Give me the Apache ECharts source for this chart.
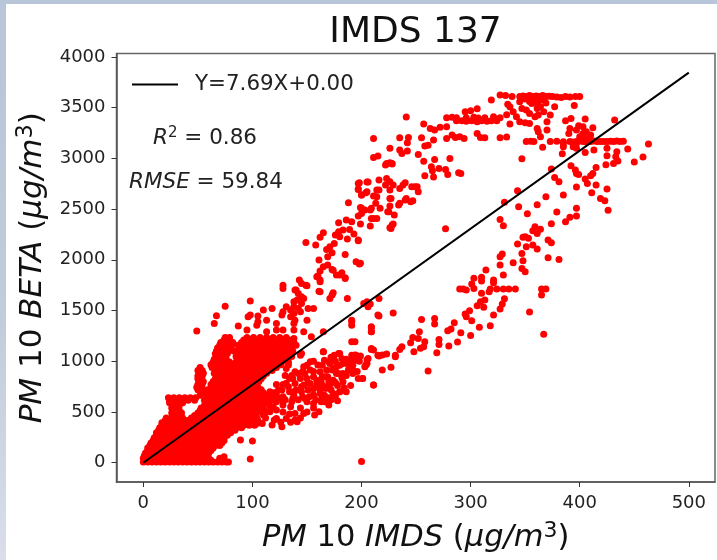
<!DOCTYPE html>
<html><head><meta charset="utf-8">
<style>
html,body{margin:0;padding:0;width:717px;height:560px;overflow:hidden;background:linear-gradient(180deg,#b9c5d8 0%,#c0cbdb 55%,#d9dee9 100%);}
#panel{position:absolute;left:6px;top:4px;right:0;bottom:0;background:#fff;}
#c{position:absolute;left:0;top:0;width:717px;height:560px;}
</style>
<script src="https://cdn.jsdelivr.net/npm/echarts@6/dist/echarts.min.js"></script>
</head><body><div id="panel"></div><div id="c"></div>
<script>
const xTicks=[0,100,200,300,400,500];
const yTicks=[0,500,1000,1500,2000,2500,3000,3500,4000];
const fitSlope=7.69, fitEnd=500;
// dense cloud: [beta value, list of IMDS values]
const denseRows=[
[8,[0,4,8,12,16,20,24,28,32,36,40,44,48,52,56,60,64,68,72,76,78]],
[45,[0,3,7,11,16,21,26,31,36,41,46,51,56,60,70]],
[95,[2,6,10,15,20,25,30,35,40,45,50,55,60]],
[145,[4,9,14,19,24,29,34,39,44,49,54,59,64]],
[195,[7,12,17,22,27,32,37,42,47,52,57,62,67,72]],
[245,[10,15,20,25,30,35,40,45,50,55,60,65,70,74]],
[295,[12,17,22,27,32,37,42,47,52,57,62,67,72,77,80]],
[345,[15,20,25,30,35,40,45,50,55,60,65,70,75,80,85,90]],
[395,[17,22,27,32,37,42,47,52,57,62,67,72,77,82,87,92,97,102]],
[440,[21,26,31,36,44,50,56,62,68,74,80,86,92,98,104]],
[490,[26,31,35,50,56,62,68,74,80,86,92,98,104]],
[540,[26,32,53,59,65,71,77,83,89,95,101,106]],
[590,[24,30,36,57,63,69,75,81,87,93,99,105,111]],
[640,[23,28,33,38,43,48,58,64,70,76,82,88,94,100,106,112,118]],
[690,[56,62,68,74,80,86,92,98,104,110,117,122]],
[745,[49,53,63,69,75,81,87,93,99,105]],
[800,[51,55,64,70,76,82,88,94,100,106]],
[855,[50,54,68,74,80,86,92,98,104,110]],
[910,[50,54,66,72,78,84,90,96,102,108,114,118]],
[965,[62,68,74,80,86,92,98,104,110,116,122,126]],
[1020,[65,70,76,90,96,102,108,114,120,126,131]],
[1075,[66,71,77,86,92,98,104,110,116,122,128,134]],
[1130,[68,73,79,88,94,100,106,112,118,124,130,136]],
[1185,[71,76,82,90,96,102,108,114,120,126,132,138]],
[1235,[75,79,95,101,107,113,119,125,131]]
];
const denseInfill=[
[25,[2,6,10,14,18,22,26,30,34,38,42,46,50,54,58,62]],
[70,[1,5,9,13,18,23,28,33,38,43,48,53,58]],
[120,[4,8,12,17,22,27,32,37,42,47,52,57,62]],
[170,[6,11,16,21,26,31,36,41,46,51,56,61,66,70]],
[220,[9,14,19,24,29,34,39,44,49,54,59,64,69,74]],
[270,[12,17,22,27,32,37,42,47,52,57,62,67,72,77]],
[320,[14,19,24,29,34,39,44,49,54,59,64,69,74,79,84]],
[370,[17,22,27,32,37,42,47,52,57,62,67,72,77,82,87,92,97,102]],
[415,[20,25,30,35,40,45,50,55,60,65,70,75,80,85,90,95,100,105]],
[465,[28,33,47,53,59,65,71,77,83,89,95,101]],
[515,[28,33,52,58,64,70,76,82,88,94,100,106]],
[565,[27,33,56,62,68,74,80,86,92,98,104,110]],
[615,[24,29,35,41,47,56,61,67,73,79,85,91,97,103,109,115]],
[665,[52,59,65,71,77,83,89,95,101,107,113,119]],
[718,[50,54,59,66,72,78,84,90,96,102,108]],
[772,[50,54,62,67,73,79,85,91,97,103]],
[828,[50,53,66,73,79,85,91,97,103,108]],
[882,[51,55,65,71,77,83,89,95,101,107,113]],
[938,[52,63,69,75,81,87,93,99,105,111,117,122]],
[992,[64,67,73,79,85,91,97,103,109,115,121,127,133]],
[1048,[67,72,85,89,95,101,107,113,119,125,131,136]],
[1102,[67,72,78,83,89,95,101,107,113,119,125,131,137]],
[1158,[70,75,81,87,93,99,105,111,117,123,129,135,140]],
[1210,[74,79,92,98,104,110,116,122,128,134]]
];
const upperCloud=[[49,1297],[65,1373],[67,1448],[75,1543],[98,1593],[87,1347],[96,1438],[98,1455],[95,1307],[105,1445],[104,1356],[113,1405],[110,1504],[118,1520],[105,1389],[122,1373],[113,1290],[122,1307],[128,1307],[138,1373],[138,1307],[147,1290],[150,1405],[151,1520],[156,1520],[128,1488],[127,1455],[135,1504],[138,1537],[141,1603],[145,1635],[139,1701],[128,1750],[128,1717],[145,1767],[149,1750],[162,1685],[173,1652],[187,1619],[162,1783],[154,1241],[138,1225],[165,1290],[144,1060],[165,1094],[191,1389],[191,1192],[194,1192],[191,1356],[135,1438],[138,1471],[142,1520],[145,1570],[147,1619],[144,1488],[139,1405],[131,1537],[142,1668],[138,1586],[160,1839],[162,1800],[174,1898],[180,1849],[185,1816],[161,1691],[174,1675],[171,1619],[150,1745],[140,1701]];
const lowerLobe=[[145,1077],[165,1093],[179,1077],[191,1405],[209,1340],[209,1290],[215,1455],[211,1110],[209,1126],[191,1060],[195,1060],[189,978],[194,1011],[192,913],[203,946],[206,1028],[205,978],[215,1060],[201,831],[211,765],[153,995],[147,946],[153,913],[148,880],[160,962],[166,1011],[171,978],[175,1060],[182,1028],[168,913],[174,929],[162,896],[156,847],[169,847],[177,880],[163,798],[172,781],[180,699],[159,765],[153,781],[147,765],[139,781],[131,929],[133,962],[139,896],[137,831],[145,699],[133,749],[127,716],[128,650],[140,716],[151,716],[162,716],[168,749],[166,666],[156,666],[148,634],[137,634],[183,880],[174,814],[113,502],[116,502],[104,387],[109,387],[118,371],[127,355],[122,437],[131,437],[139,486],[139,420],[141,404],[147,486],[161,502],[170,568],[156,584],[163,601],[180,700],[174,683],[135,552],[128,568],[119,552],[110,535],[101,453],[92,437],[89,223],[100,213],[98,36],[74,59],[188,913],[188,962],[190,1011],[194,1061],[180,1077],[174,1028],[170,995],[179,880],[183,798],[171,782],[167,732],[162,683],[156,667],[177,946],[183,979],[173,913],[167,847],[159,814],[151,782],[145,749],[138,700],[131,782],[197,831],[105,600],[112,640],[122,600],[100,560],[110,470],[95,500],[120,690],[128,600]];
const lowerLobeExtra=[[100,640],[106,620],[112,590],[118,620],[124,640],[130,620],[104,540],[110,500],[116,560],[122,520],[128,500],[134,480],[144,540],[150,600],[156,540],[146,650],[136,600],[142,620],[152,650],[158,620],[164,640],[170,640],[176,660],[166,600],[172,620],[178,610],[186,700],[190,760],[184,740],[178,760],[172,720],[164,760],[156,730],[150,830],[144,830],[142,880],[136,860],[146,900],[156,900],[164,850],[170,800],[176,790],[182,840],[186,860],[192,880],[196,900],[150,960],[156,1000],[164,960],[172,1040],[176,1000],[180,960],[186,1020],[192,960],[198,1000],[134,830],[130,860],[128,770],[134,700],[138,660],[122,770],[116,700],[110,680],[124,720],[112,440],[120,420],[126,400],[135,400],[144,440],[150,500],[157,470]];
const lowerArm=[[200,13],[211,766],[201,831],[219,913],[227,940],[261,903],[204,963],[205,1012],[197,1012],[199,1051],[209,1117],[216,1051],[219,1061],[223,1071],[231,1045],[231,1060],[235,1117],[237,1143],[245,1183],[248,1094],[247,1235],[252,1225],[254,1127],[257,1143],[258,1192],[253,1291],[255,1412],[267,1422],[267,1366],[269,1084],[271,1215],[271,1166],[280,1150],[288,1189],[279,1301],[282,1317],[285,1380],[291,1281],[300,1255],[295,1465],[299,1498],[296,1439],[301,1399],[308,1334],[318,1350],[321,1455],[327,1514],[329,1564],[331,1616],[312,1531],[306,1547],[309,1587],[313,1603],[310,1669],[303,1718],[301,1761],[293,1711],[290,1711],[296,1701],[317,1685],[318,1711],[324,1711],[335,1711],[341,1711],[330,1711],[321,1774],[310,1790],[365,1711],[369,1711],[365,1652],[354,1485],[367,1265],[216,1619],[216,1445],[229,1475],[209,1330],[209,1291],[205,1586],[208,1564],[202,1570],[206,1537],[303,1817],[310,1827],[321,1800],[314,1899],[327,1948],[327,2030],[329,2057],[339,1971],[347,1915],[348,1991],[350,1883],[330,1850],[347,2063],[351,2129],[343,2155],[357,2145],[361,2106],[371,2020],[381,2004],[350,2227],[353,2211],[348,2221],[357,2287],[359,2326],[361,2260],[364,2300],[371,2195],[374,2168],[374,2355],[387,2375],[391,2418],[397,2431],[397,2507],[379,2470],[352,2454],[344,2523],[361,2543],[327,2398],[330,2336],[331,2566],[343,2681],[369,2621],[385,2638],[397,2717],[411,2661],[419,2605],[423,2582],[426,2487],[425,2697],[415,2736],[405,2795],[407,2753],[412,2851],[410,2828],[415,2910],[424,2937],[397,2851],[399,2841],[396,2884],[392,2927],[381,2769],[377,2812],[374,2894],[347,2996],[277,2306]];
const rightCluster=[[431,2950],[435,2973],[433,3016],[434,3065],[425,3025],[425,3098],[450,2963],[458,3012],[463,3140],[444,3091],[413,3081],[405,3058],[384,3045],[397,3098],[351,3165],[355,3168],[358,3165],[366,3108],[373,3165],[379,3168],[385,3163],[391,3165],[394,3160],[397,3165],[400,3170],[403,3165],[406,3160],[410,3165],[413,3170],[416,3165],[419,3165],[422,3165],[425,3165],[428,3168],[431,3165],[434,3170],[437,3165],[440,3168],[394,3114],[397,3147],[406,3196],[410,3229],[403,3245],[397,3278],[391,3295],[387,3370],[392,3393],[405,3387],[412,3301],[399,3321],[403,3311],[390,3245],[432,3377],[400,3213],[406,3262],[385,3114],[385,3147],[370,3278],[362,3262],[361,3295],[364,3213]];
const topBand=[[327,3623],[332,3620],[338,3610],[345,3610],[348,3615],[351,3610],[354,3618],[357,3610],[360,3615],[363,3610],[366,3618],[369,3610],[372,3612],[375,3610],[379,3605],[383,3600],[387,3610],[391,3605],[396,3610],[400,3608],[319,3574],[334,3534],[336,3508],[345,3557],[347,3492],[351,3475],[354,3442],[361,3541],[364,3508],[367,3459],[362,3426],[358,3574],[361,3492],[373,3426],[370,3360],[377,3508],[395,3521],[356,3541],[364,3574],[367,3574],[359,3410],[339,3459],[342,3410],[345,3360],[350,3351],[354,3344],[336,3337],[350,3585],[354,3560],[369,3545],[287,3370],[292,3370],[296,3365],[301,3370],[306,3360],[310,3370],[315,3365],[319,3370],[324,3370],[278,3400],[283,3405],[287,3400],[296,3400],[303,3405],[307,3398],[313,3400],[321,3410],[278,3311],[295,3459],[300,3469],[306,3488],[327,3400],[333,3430]];
const midBand=[[278,3196],[283,3229],[286,3206],[290,3213],[294,3196],[306,3245],[309,3206],[313,3203],[327,3203],[333,3209],[241,3406],[257,3337],[263,3295],[267,3278],[272,3305],[266,3180],[255,3203],[258,3121],[261,3130],[235,3203],[243,3206],[242,3153],[211,3196],[226,3098],[235,3081],[237,3048],[242,3071],[211,3009],[215,3022],[252,3038],[257,2970],[267,2989],[281,2999],[222,2933],[226,2956],[228,2943],[264,2917],[265,2878],[271,2900],[277,2891],[258,2828],[266,2815],[279,2841],[289,2858],[291,2851]];
const upperArm=[[197,2753],[206,2766],[216,2786],[223,2802],[226,2769],[222,2736],[226,2687],[240,2759],[238,2736],[235,2703],[246,2720],[251,2720],[252,2671],[245,2572],[240,2589],[235,2556],[234,2539],[226,2605],[226,2530],[225,2474],[230,2441],[229,2352],[226,2316],[217,2507],[213,2556],[214,2621],[216,2687],[205,2671],[200,2638],[197,2697],[208,2490],[200,2507],[214,2408],[209,2408],[208,2332],[200,2457],[197,2195],[199,1965],[149,2171],[158,2145],[162,2221],[165,2267],[168,2102],[171,2129],[175,2161],[169,2030],[173,2069],[161,1997],[185,2053],[176,2244],[179,2276],[183,2293],[180,2227],[189,2299],[187,2204],[193,2253],[197,2188],[179,2365],[186,2391],[191,2375],[188,2562],[165,1932],[169,1948],[162,1889],[159,1833],[173,1905],[182,1872],[177,1849],[185,1823],[195,1981],[198,1958],[143,1800],[197,2431],[199,2516],[203,2490],[209,2507],[211,2408],[199,2352],[197,2693],[198,2759],[205,2766],[200,2638],[204,2661],[214,2687],[211,2628],[229,2736],[249,2720],[227,2605],[224,2474],[228,2342],[227,2309],[241,2605],[247,2582],[228,2950],[223,2950]];
const flat=rows=>rows.flatMap(r=>r[1].map(x=>[x,r[0]]));
const points=[...flat(denseRows),...flat(denseInfill),...upperCloud,...lowerLobe,...lowerLobeExtra,...lowerArm,...rightCluster,...topBand,...midBand,...upperArm];
const F='"DejaVu Sans"';
const NB='\u00a0';
const makeRich=(big,small,pad)=>({
 i:{fontFamily:F,fontStyle:'italic',fontSize:big,color:'#111'},
 n:{fontFamily:F,fontSize:big,color:'#111'},
 s:{fontFamily:F,fontSize:small,color:'#111',padding:[0,0,pad,0]}
});
const labelRich={i:{fontFamily:F,fontStyle:'italic',fontSize:21.5,fill:'#222'},n:{fontFamily:F,fontSize:21.5,fill:'#222'},s:{fontFamily:F,fontSize:15,fill:'#222',padding:[0,0,10,0]}};
const chart=echarts.init(document.getElementById('c'),null,{renderer:'canvas'});
chart.setOption({
 animation:false,
 backgroundColor:'transparent',
 title:{text:'IMDS 137',left:410.5,top:10,textAlign:'center',textStyle:{fontFamily:F,fontSize:36,fontWeight:'normal',color:'#111'}},
 legend:{show:true,left:127,top:69,itemWidth:46,itemHeight:2,itemGap:10,data:[{name:'Y=7.69X+0.00',icon:'rect'}],textStyle:{fontFamily:F,fontSize:21.4,color:'#222',padding:[0,0,0,12]}},
 grid:{left:116.5,right:2,top:53.5,bottom:78,show:true,backgroundColor:'#fff',borderColor:'#666',borderWidth:1.5},
 xAxis:{type:'value',min:-24.6,max:524,splitLine:{show:false},
  name:`{i|PM${NB}}{n|10${NB}}{i|IMDS${NB}}{n|(}{i|μg/m}{s|3}{n|)}`,nameLocation:'middle',nameGap:38,nameTextStyle:{rich:makeRich(30.5,22,15)},
  axisLine:{show:true,onZero:false,lineStyle:{color:'#555',width:1.5}},
  axisTick:{show:true,length:5,customValues:xTicks,lineStyle:{color:'#333'}},
  axisLabel:{customValues:xTicks,fontFamily:F,fontSize:18,color:'#222',margin:12,formatter:v=>String(v)}},
 yAxis:{type:'value',min:-190,max:4033,splitLine:{show:false},
  name:`{i|PM${NB}}{n|10${NB}}{i|BETA${NB}}{n|(}{i|μg/m}{s|3}{n|)}`,nameLocation:'middle',nameGap:64,nameRotate:90,nameTextStyle:{rich:makeRich(31,22.5,15)},
  axisLine:{show:true,onZero:false,lineStyle:{color:'#555',width:1.5}},
  axisTick:{show:true,length:5,customValues:yTicks,lineStyle:{color:'#333'}},
  axisLabel:{customValues:yTicks,fontFamily:F,fontSize:18,color:'#222',margin:11,formatter:v=>String(v)}},
 graphic:[
  {type:'text',left:153,top:126,style:{rich:labelRich,text:`{i|R}{s|2}{n|${NB}=${NB}0.86}`}},
  {type:'text',left:129,top:171,style:{rich:labelRich,text:`{i|RMSE}{n|${NB}=${NB}59.84}`}}
 ],
 series:[
  {name:'points',type:'scatter',data:points,symbol:'circle',symbolSize:7,itemStyle:{color:'#ff0000',opacity:1},z:2,silent:true},
  {name:'Y=7.69X+0.00',type:'line',data:[[0,0],[fitEnd,fitSlope*fitEnd]],showSymbol:false,lineStyle:{color:'#000',width:2},itemStyle:{color:'#000'},z:3,silent:true}
 ]
});
</script></body></html>
